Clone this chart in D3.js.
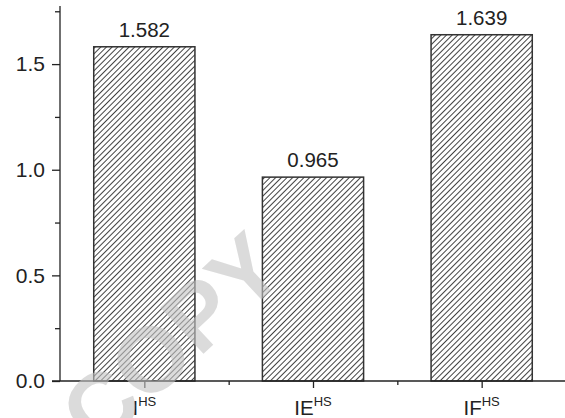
<!DOCTYPE html>
<html>
<head>
<meta charset="utf-8">
<script src="https://cdn.jsdelivr.net/npm/d3@7"></script>
<style>
  html, body { margin: 0; padding: 0; background: #fff; }
  svg { display: block; font-family: "Liberation Sans", Arial, sans-serif; }
</style>
</head>
<body>
<main></main>
<script>
// Data
const categories = ['I', 'IE', 'IF'];
const superscripts = ['HS', 'HS', 'HS'];
const values = [1.582, 0.965, 1.639];
const valueLabels = ['1.582', '0.965', '1.639'];
const yMajorTicks = [0, 0.5, 1.0, 1.5];
const yMinorTicks = [0.25, 0.75, 1.25, 1.75];

// Constants
const WIDTH = 565;
const HEIGHT = 418;
const LEFT = 60;
const RIGHT = 566;
const TOP = 6;
const BOTTOM = 381;
const Y_MAX = 1.775;
const INK = '#222';

const svg = d3.select('main')
  .append('svg')
  .attr('width', WIDTH)
  .attr('height', HEIGHT);

// Hatch pattern for the bars
const pattern = svg.append('defs')
  .append('pattern')
  .attr('id', 'hatch')
  .attr('patternUnits', 'userSpaceOnUse')
  .attr('width', 4)
  .attr('height', 4)
  .attr('patternTransform', 'rotate(45)');
pattern.append('rect').attr('width', 4).attr('height', 4).attr('fill', '#fff');
pattern.append('line')
  .attr('x1', 0).attr('y1', 0).attr('x2', 0).attr('y2', 4)
  .attr('stroke', '#111')
  .attr('stroke-width', 1.6);

// Scales
const x = d3.scaleBand(categories, [LEFT, RIGHT]).paddingInner(0.4).paddingOuter(0.2);
const xStep = d3.scalePoint(categories, [LEFT, RIGHT]).padding(0.5);
const y = d3.scaleLinear([0, Y_MAX], [BOTTOM, TOP]);

// Bars
svg.append('g')
  .selectAll('rect')
  .data(values)
  .join('rect')
  .attr('x', (d, i) => x(categories[i]))
  .attr('y', (d) => y(d))
  .attr('width', x.bandwidth())
  .attr('height', (d) => y(0) - y(d))
  .attr('fill', 'url(#hatch)')
  .attr('stroke', '#333')
  .attr('stroke-width', 1.5);

// Value labels
svg.append('g')
  .selectAll('text')
  .data(values)
  .join('text')
  .attr('x', (d, i) => x(categories[i]) + x.bandwidth() / 2)
  .attr('y', (d) => y(d) - 10)
  .attr('text-anchor', 'middle')
  .attr('font-size', 20.5)
  .attr('fill', INK)
  .text((d, i) => valueLabels[i]);

// Y axis
const yAxis = svg.append('g')
  .attr('transform', `translate(${LEFT},0)`)
  .call(d3.axisLeft(y).tickValues(yMajorTicks).tickSize(8).tickPadding(7)
    .tickFormat(d3.format('.1f')));
yAxis.select('.domain').attr('d', `M0,${BOTTOM}V${TOP}`);
svg.append('g')
  .attr('transform', `translate(${LEFT},0)`)
  .call(d3.axisLeft(y).tickValues(yMinorTicks).tickSize(5).tickFormat(''))
  .select('.domain').remove();

// X axis
const xAxis = svg.append('g')
  .attr('transform', `translate(0,${BOTTOM})`)
  .call(d3.axisBottom(xStep).tickSize(7).tickFormat(''));
xAxis.select('.domain').attr('d', `M${LEFT - 8},0H${WIDTH}`);
svg.append('g')
  .attr('transform', `translate(0,${BOTTOM})`)
  .call(d3.axisBottom(d3.scaleLinear([0, 3], [LEFT, RIGHT])).tickValues([1, 2]).tickSize(4).tickFormat(''))
  .select('.domain').remove();

svg.selectAll('.domain, .tick line').attr('stroke', INK).attr('stroke-width', 1.3);
svg.selectAll('.tick text').attr('font-size', 21).attr('fill', INK).attr('font-family', null);

// Category labels with superscripts
const catLabels = svg.append('g')
  .selectAll('text')
  .data(categories)
  .join('text')
  .attr('x', (d) => xStep(d))
  .attr('y', 415)
  .attr('text-anchor', 'middle')
  .attr('font-size', 20.5)
  .attr('fill', INK);
catLabels.append('tspan').text((d) => d);
catLabels.append('tspan')
  .attr('dy', -9)
  .attr('font-size', 13)
  .text((d, i) => superscripts[i]);

// Watermark
svg.append('text')
  .attr('transform', 'translate(98,452) rotate(-43)')
  .attr('font-size', 92)
  .attr('font-weight', 'bold')
  .attr('fill', '#c4c4c4')
  .attr('opacity', 0.6)
  .attr('pointer-events', 'none')
  .text('COPY');
</script>
</body>
</html>
